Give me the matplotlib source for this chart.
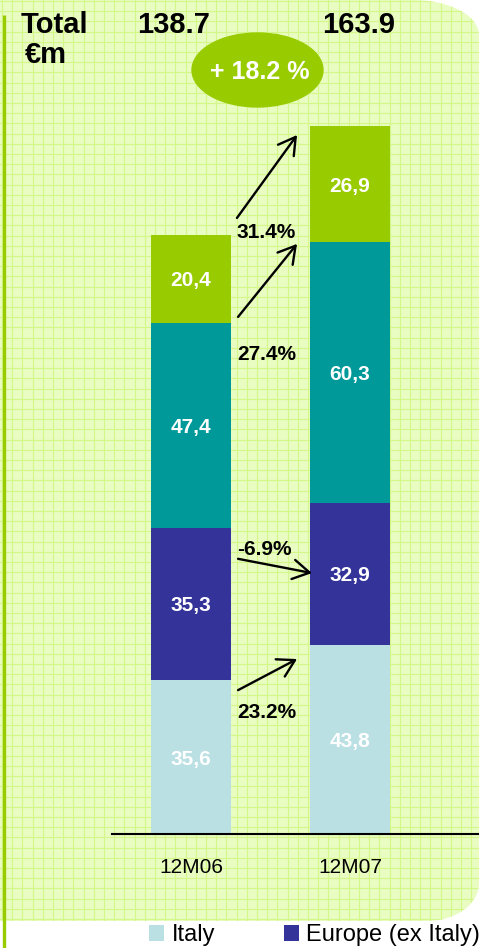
import numpy as np
import matplotlib.pyplot as plt
from matplotlib.patches import Ellipse, PathPatch
from matplotlib.path import Path

plt.rcParams['font.family'] = ['Liberation Sans', 'DejaVu Sans']

# gegevens (EUR m)
periods = ['12M06', '12M07']
italy = [35.6, 43.8]
europe = [35.3, 32.9]
other_1 = [47.4, 60.3]
other_2 = [20.4, 26.9]
totals = ['138.7', '163.9']
total_growth = '+ 18.2 %'
growth = ['23.2%', '-6.9%', '27.4%', '31.4%']

c_italy = '#bbe0e3'
c_europe = '#333399'
c_other_1 = '#009999'
c_other_2 = '#99cc00'

W, H = 479, 948
fig = plt.figure(figsize=(W / 100, H / 100), dpi=100)

# achtergrond in pixel-coordinaten
bg = fig.add_axes([0, 0, 1, 1], zorder=0)
bg.set_xlim(0, W)
bg.set_ylim(H, 0)
bg.axis('off')

t1 = np.linspace(-np.pi / 2, 0, 30)
t2 = np.linspace(0, np.pi / 2, 30)
verts = [(0, 0), (413, 0)]
verts += list(zip(413 + 66 * np.cos(t1), 35 + 35 * np.sin(t1)))
verts += [(479, 35), (479, 883)]
verts += list(zip(427 + 52 * np.cos(t2), 883 + 38 * np.sin(t2)))
verts += [(0, 921), (0, 0)]
shape = PathPatch(Path(verts), facecolor='#e9fcc2', edgecolor='none', zorder=0)
bg.add_patch(shape)
for x in np.arange(2, W, 10.2):
    ln, = bg.plot([x, x], [0, H], color='#d4f78a', lw=0.8, zorder=1)
    ln.set_clip_path(shape)
for y in np.arange(1, H, 10.2):
    ln, = bg.plot([0, W], [y, y], color='#d4f78a', lw=0.8, zorder=1)
    ln.set_clip_path(shape)
bg.plot([3.7, 3.7], [15, H], color='#99cc00', lw=2.4, solid_capstyle='butt', zorder=2)

bg.text(54, 33, 'Total', fontsize=21, fontweight='bold', ha='center', va='baseline')
bg.text(46, 63, '€m', fontsize=21, fontweight='bold', ha='center', va='baseline')
bg.text(174, 33, totals[0], fontsize=21, fontweight='bold', ha='center', va='baseline')
bg.text(359, 33, totals[1], fontsize=21, fontweight='bold', ha='center', va='baseline')
bg.add_patch(Ellipse((257.5, 70), 131, 74, color='#99cc00', zorder=3))
bg.text(260, 79, total_growth, fontsize=18, fontweight='bold', color='white',
        ha='center', va='baseline', zorder=4)

# gestapelde staven
ax = fig.add_axes([112 / W, 114 / H, 367 / W, 834 / H], zorder=1)
ax.patch.set_visible(False)
x = np.arange(len(periods))
width = 80 / 159
series = [(italy, c_italy, 'Italy'), (europe, c_europe, 'Europe (ex Italy)'),
          (other_1, c_other_1, 'other 1'), (other_2, c_other_2, 'other 2')]
bottom = np.zeros(len(periods))
handles = []
for vals, col, lab in series:
    vals = np.array(vals)
    b = ax.bar(x, vals, width, bottom=bottom, color=col, label=lab)
    handles.append(b)
    for xi, bi, vi in zip(x, bottom, vals):
        ax.text(xi, bi + vi / 2, f'{vi:.1f}'.replace('.', ','), color='white',
                fontsize=15, fontweight='bold', ha='center', va='center_baseline')
    bottom += vals

ax.set_xlim((112 - 191) / 159, (479 - 191) / 159)
ax.set_ylim(0, 834 / 4.32)
for s in ['top', 'right', 'left']:
    ax.spines[s].set_visible(False)
ax.spines['bottom'].set_linewidth(1.5)
ax.set_yticks([])
ax.set_xticks(x)
ax.set_xticklabels(periods, fontsize=15)
ax.tick_params(axis='x', length=0, pad=17)

# groeipijlen tussen de perioden
arrows = [(0.296, 33.3, 0.667, 40.5), (0.296, 63.7, 0.761, 60.4),
          (0.296, 119.7, 0.667, 136.6), (0.289, 142.6, 0.667, 161.8)]
label_y = [26.9, 64.6, 109.7, 137.9]
for (x0, y0, x1, y1), txt, ly in zip(arrows, growth, label_y):
    ax.annotate('', xy=(x1, y1), xytext=(x0, y0),
                arrowprops=dict(arrowstyle='->,head_length=0.6,head_width=0.35',
                                lw=1.7, color='black', mutation_scale=20,
                                shrinkA=0, shrinkB=0))
    ax.text(0.289, ly, txt, fontsize=15, fontweight='bold', ha='left', va='baseline')

fig.legend(handles=handles[:2], loc='center left',
           bbox_to_anchor=(149 / W, 1 - 935.5 / H), ncol=2, frameon=False,
           fontsize=17, handlelength=0.63, handleheight=0.63,
           handletextpad=0.33, columnspacing=2.9, borderpad=0, borderaxespad=0)

fig.savefig('out.png', dpi=100)
